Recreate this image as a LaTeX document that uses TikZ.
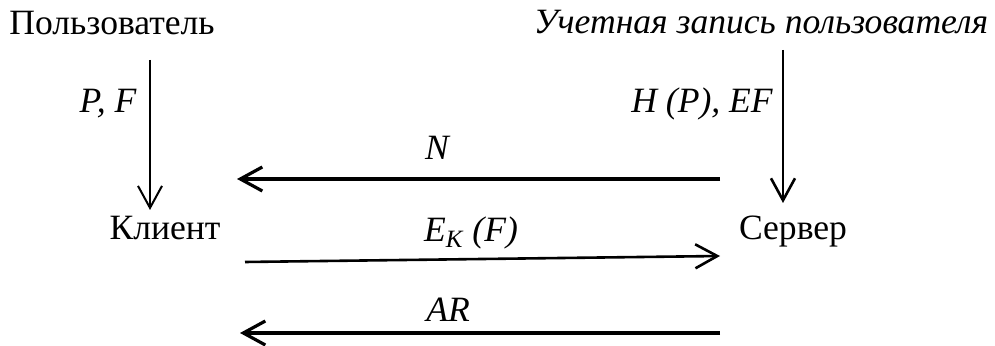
\documentclass[tikz,border=0pt]{standalone}
\usepackage{fontspec}
\setmainfont{Liberation Serif}
\usetikzlibrary{arrows.meta}

\begin{document}
\begin{tikzpicture}[x=0.5pt, y=-0.5pt,
                    every node/.style={inner sep=0pt, anchor=base, font=\fontsize{17.8}{20}\selectfont},
                    feed/.style={-{Straight Barb[length=11pt, width=12pt]}, line width=1pt},
                    msg/.style={-{Straight Barb[length=11pt, width=12pt]}, line width=1.6pt}]

    \useasboundingbox (0,0) rectangle (995,346);

    % parties
    \node (user)    at (112,35)  {Пользователь};
    \node (account) at (761,34)  {\itshape Учетная запись пользователя};
    \node (client)  at (165,240) {Клиент};
    \node (server)  at (793,240) {Сервер};

    % arrow ends
    \coordinate (userOut)    at (150,60);
    \coordinate (clientIn)   at (150,210);
    \coordinate (accountOut) at (783,50);
    \coordinate (serverIn)   at (783,203);
    \coordinate (nFrom) at (720,179);
    \coordinate (nTo)   at (237,179);
    \coordinate (eFrom) at (245,262);
    \coordinate (eTo)   at (720,256);
    \coordinate (aFrom) at (720,333);
    \coordinate (aTo)   at (240,333);

    \draw[feed] (userOut) -- (clientIn);
    \draw[feed, line width=1.3pt] (accountOut) -- (serverIn);
    \draw[msg] (nFrom) -- (nTo);
    \draw[msg, line width=1.3pt] (eFrom) -- (eTo);
    \draw[msg] (aFrom) -- (aTo);

    % labels
    \node (pf)  at (108,113) {\itshape P, F};
    \node (hp)  at (702,113) {\itshape H (P), EF};
    \node (nl)  at (437,160) {\itshape N};
    \node (ek)  at (471,242) {\itshape E\textsubscript{K} (F)};
    \node (ar)  at (448,322) {\itshape AR};
\end{tikzpicture}
\end{document}
